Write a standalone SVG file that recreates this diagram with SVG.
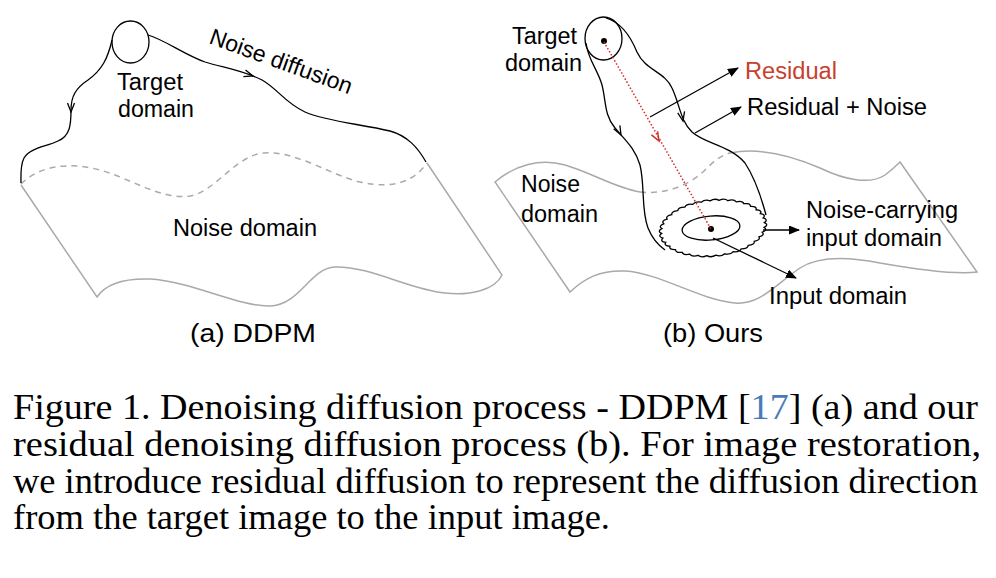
<svg xmlns="http://www.w3.org/2000/svg" xmlns:xlink="http://www.w3.org/1999/xlink" width="996" height="578" viewBox="0 0 996 578">
<style>
  .sheet{fill:none;stroke:#a9a9a9;stroke-width:1.5}
  .dash{fill:none;stroke:#aaaaaa;stroke-width:1.5;stroke-dasharray:6 5}
  .blk{fill:none;stroke:#000;stroke-width:1.3}
  .red{fill:none;stroke:#d42a2a;stroke-width:1.5}
  .lbl{font-family:"Liberation Sans",Arial,sans-serif;font-size:23px;fill:#000}
  .lbl2{font-family:"Liberation Sans",Arial,sans-serif;font-size:23.5px;fill:#000}
  .cap{font-family:"Liberation Sans",Arial,sans-serif;font-size:26px;fill:#000}
  .body{font-family:"Liberation Serif","Times New Roman",serif;font-size:35px;fill:#000}
  .arrow{fill:none;stroke:#000;stroke-width:1.3;marker-end:url(#ah)}
</style>
<defs>
  <marker id="ah" markerUnits="userSpaceOnUse" markerWidth="11" markerHeight="9" refX="10" refY="4.5" orient="auto">
    <path d="M0,0 L11,4.5 L0,9 z" fill="#000"/>
  </marker>
  <path id="chev" d="M-9,-3.5 L0,0 L-9,3.5" fill="none"/>
</defs>
<rect width="996" height="578" fill="#fff"/>

<!-- Panel (a) -->
<g id="a-noise-sheet">
  <path class="dash" d="M21,184 C40,165 70,162 100,170 C130,178 160,200 190,196 C215,192 235,156 263,153 C295,150 330,175 360,182 C395,190 415,180 427,163"/>
  <path class="sheet" d="M21,185 L97,297 C105,285 120,278 150,279 C190,281 240,307 270,306 C300,305 310,268 335,267 C370,266 410,290 445,293 C470,296 495,290 502,275 L427,163"/>
</g>
<g id="a-target">
  <ellipse cx="130.5" cy="42" rx="18.5" ry="21" class="blk"/>
</g>
<g id="a-connectors">
  <path class="blk" d="M112,40 C108,58 102,70 88,80 C76,88 71,96 71,110 C71,125 70,136 58,141 C45,147 30,148 24,158 C20,166 21,175 21,183"/>
  <use xlink:href="#chev" class="blk" transform="translate(71,112) rotate(90)"/>
  <path class="blk" d="M148,35 C165,40 185,55 205,62 C225,68 245,71 262,80 C278,89 285,103 305,112 C325,121 360,124 390,131 C408,136 418,148 426,162"/>
  <use xlink:href="#chev" class="blk" transform="translate(253,76) rotate(18)"/>
</g>
<g id="a-labels">
  <text class="lbl" x="117" y="90" textLength="66" lengthAdjust="spacingAndGlyphs">Target</text>
  <text class="lbl" x="118" y="117" textLength="76" lengthAdjust="spacingAndGlyphs">domain</text>
  <text class="lbl" x="208" y="43" textLength="150" lengthAdjust="spacingAndGlyphs" transform="rotate(20 208 43)">Noise diffusion</text>
  <text class="lbl2" x="173" y="236" textLength="144" lengthAdjust="spacingAndGlyphs">Noise domain</text>
  <text class="cap" x="190" y="342" textLength="126" lengthAdjust="spacingAndGlyphs">(a) DDPM</text>
</g>

<!-- Panel (b) -->
<g id="b-noise-sheet">
  <path class="sheet" d="M640,192 C615,188 590,172 565,165 C540,158 515,165 495,182 L570,292 C585,278 600,270 625,271 C660,273 700,300 735,303 C760,305 775,285 800,268 C820,255 850,257 880,263 C920,270 955,275 977,272 L900,162 C897,165 892,170 885,175 C870,185 845,180 820,168 C790,155 760,147 730,153"/>
  <path class="dash" d="M640,192 C665,195 690,185 705,170 C715,160 722,155 730,153"/>
</g>
<g id="b-target">
  <ellipse cx="603.5" cy="38.5" rx="18.5" ry="21.5" class="blk"/>
  <circle cx="604" cy="41" r="3" fill="#000"/>
</g>
<g id="b-funnel">
  <path class="blk" d="M586,43 C588,60 598,70 602,85 C606,100 604,115 615,128 C625,140 635,148 640,165 C645,185 641,210 648,228 C652,238 658,245 665,250"/>
  <path class="blk" d="M606,18 C620,22 630,35 637,52 C645,70 665,72 672,88 C680,105 680,120 692,132 C705,144 730,145 745,163 C755,178 762,200 766,215"/>
  <use xlink:href="#chev" class="blk" transform="translate(621,135) rotate(62)"/>
  <use xlink:href="#chev" class="blk" transform="translate(683,121) rotate(78)"/>
</g>
<g id="b-noise-input">
  <path fill="none" stroke="#000" stroke-width="1.3" vector-effect="non-scaling-stroke" transform="translate(713,228) rotate(-6) scale(0.053,0.028)" d="M975,0 Q1061,93 960,169 Q1029,276 916,333 Q965,450 844,488 Q872,611 747,627 Q753,753 627,747 Q611,872 488,844 Q450,965 333,916 Q276,1029 169,960 Q93,1061 0,975 Q-93,1061 -169,960 Q-276,1029 -333,916 Q-450,965 -488,844 Q-611,872 -627,747 Q-753,753 -747,627 Q-872,611 -844,488 Q-965,450 -916,333 Q-1029,276 -960,169 Q-1061,93 -975,0 Q-1061,-93 -960,-169 Q-1029,-276 -916,-333 Q-965,-450 -844,-488 Q-872,-611 -747,-627 Q-753,-753 -627,-747 Q-611,-872 -488,-844 Q-450,-965 -333,-916 Q-276,-1029 -169,-960 Q-93,-1061 0,-975 Q93,-1061 169,-960 Q276,-1029 333,-916 Q450,-965 488,-844 Q611,-872 627,-747 Q753,-753 747,-627 Q872,-611 844,-488 Q965,-450 916,-333 Q1029,-276 960,-169 Q1061,-93 975,0 Z"/>
</g>
<g id="b-input">
  <ellipse cx="711" cy="228" rx="29" ry="12" class="blk" transform="rotate(-5 711 228)"/>
  <circle cx="711" cy="229" r="3" fill="#000"/>
</g>
<g id="b-connectors">
  <path class="red" stroke-dasharray="1.5 2" d="M604,42 L711,229"/>
  <use xlink:href="#chev" class="red" transform="translate(659,141) rotate(60)"/>
  <path class="arrow" d="M650,117 L738,68"/>
  <path class="arrow" d="M695,133 L741,107"/>
  <path class="arrow" d="M763,230 L799,230"/>
  <path class="arrow" d="M713,238 L796,278"/>
</g>
<g id="b-labels">
  <text class="lbl" x="512" y="44" textLength="65" lengthAdjust="spacingAndGlyphs">Target</text>
  <text class="lbl" x="505" y="71" textLength="77" lengthAdjust="spacingAndGlyphs">domain</text>
  <text class="lbl2" x="745" y="79" style="fill:#c8402e" textLength="92" lengthAdjust="spacingAndGlyphs">Residual</text>
  <text class="lbl2" x="747" y="115" textLength="180" lengthAdjust="spacingAndGlyphs">Residual + Noise</text>
  <text class="lbl" x="521" y="192" textLength="59" lengthAdjust="spacingAndGlyphs">Noise</text>
  <text class="lbl" x="521" y="222" textLength="77" lengthAdjust="spacingAndGlyphs">domain</text>
  <text class="lbl2" x="806" y="218" textLength="152" lengthAdjust="spacingAndGlyphs">Noise-carrying</text>
  <text class="lbl2" x="806" y="246" textLength="136" lengthAdjust="spacingAndGlyphs">input domain</text>
  <text class="lbl2" x="769" y="304" textLength="138" lengthAdjust="spacingAndGlyphs">Input domain</text>
  <text class="cap" x="663" y="342" textLength="100" lengthAdjust="spacingAndGlyphs">(b) Ours</text>
</g>

<!-- Caption -->
<g id="caption">
  <text class="body" x="13" y="419" textLength="965" lengthAdjust="spacingAndGlyphs">Figure 1.  Denoising diffusion process - DDPM [<tspan fill="#4a7ab8">17</tspan>] (a) and our</text>
  <text class="body" x="13" y="456" textLength="968" lengthAdjust="spacingAndGlyphs">residual denoising diffusion process (b).  For image restoration,</text>
  <text class="body" x="13" y="492.5" textLength="965" lengthAdjust="spacingAndGlyphs">we introduce residual diffusion to represent the diffusion direction</text>
  <text class="body" x="13" y="529" textLength="597" lengthAdjust="spacingAndGlyphs">from the target image to the input image.</text>
</g>
</svg>
